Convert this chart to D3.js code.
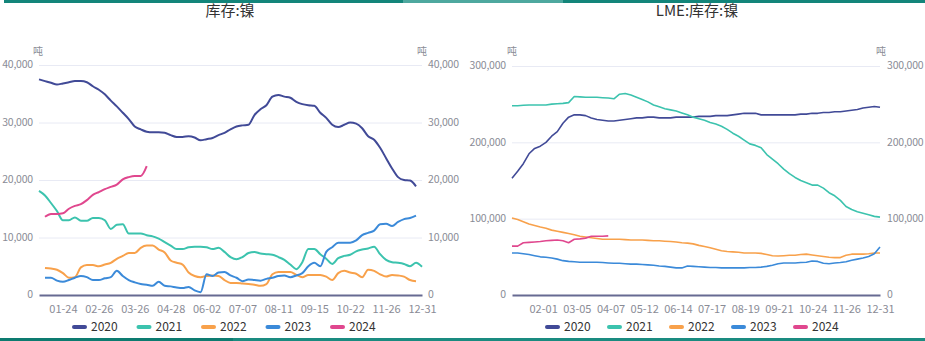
<!DOCTYPE html>
<html>
<head>
<meta charset="utf-8">
<script src="https://cdn.jsdelivr.net/npm/d3@7"></script>
<style>
  body { margin: 0; background: #fff; }
  svg text { font-family: "Noto Sans CJK SC", "Microsoft YaHei", sans-serif; }
</style>
</head>
<body>
<div id="main"></div>
<script>
// legend / series names
var years = ["2020", "2021", "2022", "2023", "2024"];

// SHFE nickel inventory (tonnes), one value per category slot
var shfeLabels = ["01-24", "02-26", "03-26", "04-28", "06-02", "07-07", "08-11", "09-15", "10-22", "11-26", "12-31"];
var shfe2020 = [37500, 37200, 36900, 36600, 36800, 37000, 37200, 37200, 37000, 36300, 35700, 34900, 33800, 32800, 31700, 30600,
  29300, 28800, 28400, 28300, 28300, 28200, 27800, 27500, 27500, 27600, 27400, 26900, 27100, 27300, 27800, 28200,
  28800, 29300, 29500, 29600, 31300, 32300, 33000, 34500, 34800, 34500, 34300, 33600, 33200, 33000, 32900, 31700,
  30800, 29600, 29200, 29600, 30000, 29800, 29000, 27600, 27000, 25600, 23800, 22000, 20500, 20000, 19900, 18900];
var shfe2021 = [18100, 17300, 16000, 14600, 13000, 13000, 13500, 12900, 12900, 13400, 13400, 13000, 11500, 12200, 12300, 10700,
  10700, 10700, 10400, 10200, 9800, 9200, 8600, 8000, 8000, 8300, 8400, 8400, 8300, 8000, 8200, 7500,
  6600, 6200, 6600, 7300, 7500, 7200, 7100, 7000, 6600, 6100, 5300, 4500, 5700, 8000, 8000, 7100,
  6300, 5400, 6400, 6800, 7000, 7600, 7900, 8100, 8400, 7100, 6100, 5700, 5600, 5400, 5000, 5600, 4900];
var shfe2022 = [null, 4700, 4600, 4400, 3800, 3000, 3100, 4800, 5200, 5200, 5000, 5300, 5600, 6300, 6800, 7300,
  7300, 8200, 8600, 8600, 7900, 7400, 6000, 5600, 5300, 3900, 3300, 3100, 3300, 3400, 3300, 2600,
  2100, 2100, 2000, 1900, 1800, 1600, 1900, 3600, 4000, 4000, 4000, 3500, 3100, 3500, 3500, 3500,
  3200, 2600, 3800, 4200, 3900, 3700, 3100, 4400, 4200, 3600, 3200, 3500, 3400, 3200, 2600, 2400];
var shfe2023 = [null, 3000, 3000, 2500, 2300, 2600, 3000, 3300, 3100, 2600, 2600, 2900, 3100, 4200, 3300, 2600,
  2200, 1900, 1800, 1600, 2300, 1600, 1500, 1300, 1200, 1400, 800, 500, 3600, 3300, 3900, 4000,
  3400, 3000, 2400, 2700, 2600, 2500, 2800, 3000, 3300, 3400, 3100, 3400, 3800, 5000, 5600, 5000,
  7500, 8300, 9100, 9100, 9100, 9500, 10400, 10800, 11200, 12300, 12400, 12000, 12700, 13200, 13400, 13800];
var shfe2024 = [null, 13600, 14100, 14100, 14200, 15000, 15500, 15800, 16500, 17400, 17900, 18400, 18800, 19200, 20100, 20500,
  20700, 20700, 22400];

// LME nickel inventory (tonnes)
var lmeLabels = ["02-01", "03-05", "04-07", "05-12", "06-14", "07-17", "08-19", "09-21", "10-24", "11-26", "12-31"];
var lme2020 = [153000, 162000, 172000, 185000, 192000, 195000, 200000, 208000, 214000, 225000, 233000, 236000, 236000, 235000, 232000, 230000,
  229000, 228000, 228000, 229000, 230000, 231000, 232000, 232000, 233000, 233000, 232000, 232000, 232000, 233000, 233000, 233000,
  233000, 234000, 234000, 234000, 235000, 235000, 235000, 236000, 237000, 238000, 238000, 238000, 236000, 236000, 236000, 236000,
  236000, 236000, 236000, 237000, 237000, 238000, 238000, 239000, 239000, 240000, 240000, 241000, 242000, 243000, 245000, 246000,
  247000, 246000];
var lme2021 = [248000, 248000, 248500, 249000, 249000, 249000, 249000, 250000, 250500, 251000, 252000, 260000, 259500, 259000, 259000, 259000,
  258500, 258000, 257000, 263000, 264000, 262000, 259000, 256000, 253000, 249000, 246500, 244000, 242500, 241000, 238500, 236000,
  233000, 231000, 229000, 226000, 224000, 221000, 217000, 212000, 208000, 203000, 198000, 196000, 193000, 184000, 178000, 172000,
  165000, 159000, 154000, 150000, 147000, 144000, 144000, 140000, 134000, 130000, 124000, 116000, 112000, 109000, 107000, 105000,
  103000, 102000];
var lme2022 = [101000, 99000, 96000, 93000, 91000, 89000, 87500, 85000, 83500, 82000, 80500, 79000, 77000, 76000, 75000, 74000,
  73000, 73000, 73000, 73000, 72500, 72000, 72000, 72000, 71500, 71000, 71000, 70500, 70000, 69500, 68500, 68000,
  67000, 65000, 63500, 62000, 60000, 58000, 57000, 56500, 56000, 55000, 55000, 55000, 54500, 53000, 51500, 51000,
  51500, 52000, 52000, 53000, 53500, 52500, 51500, 50500, 49500, 49000, 49000, 52000, 53500, 53500, 53500, 54000,
  55000, 55000];
var lme2023 = [55000, 55000, 54000, 53000, 51500, 50000, 49500, 48500, 47000, 45000, 44000, 43500, 43000, 43000, 43000, 43000,
  42500, 42000, 41500, 41500, 41000, 40500, 40500, 40000, 39500, 39000, 38000, 37500, 36500, 35500, 35500, 38000,
  37500, 37000, 36500, 36000, 36000, 35500, 35500, 35500, 35500, 35500, 36000, 36000, 36500, 37500, 39000, 41000,
  42000, 42000, 42000, 42500, 43000, 44500, 44000, 41500, 41000, 42000, 42500, 43500, 45500, 47000, 48500, 50500,
  54000, 63000];
var lme2024 = [64000, 64000, 68500, 69000, 69500, 70000, 71000, 71500, 72000, 71000, 68500, 73000, 73500, 74500, 77000, 77000,
  77000, 77500];

var lineColors = ["#414a97", "#3cc3ae", "#f8a14b", "#3b8ad9", "#e0478e"];

var svg = d3.select("#main").append("svg")
  .attr("width", 925)
  .attr("height", 341);

// frame bars top and bottom
svg.append("rect").attr("x", 4).attr("y", 0).attr("width", 921).attr("height", 3).attr("fill", "#13857a");
svg.append("rect").attr("x", 403).attr("y", 0).attr("width", 160).attr("height", 3).attr("fill", "#4ea89f");
svg.append("rect").attr("x", 0).attr("y", 338).attr("width", 925).attr("height", 3).attr("fill", "#1a8b80");
svg.append("rect").attr("x", 0).attr("y", 338).attr("width", 233).attr("height", 3).attr("fill", "#0d7b70");

function drawChart(o) {
  var g = svg.append("g");
  var x = d3.scaleLinear().domain([0, o.n - 1]).range([o.left, o.right]);
  var y = d3.scaleLinear().domain([0, o.yMax]).range([295, o.top]);

  // grid
  var grid = g.append("g")
    .attr("transform", "translate(" + o.left + ",0)")
    .call(d3.axisLeft(y).tickValues(o.yTicks.slice(1)).tickSize(-(o.right - o.left)).tickFormat(""));
  grid.select(".domain").remove();
  grid.selectAll("line").attr("stroke", "#e8eaf4");

  // y labels both sides
  var yl = g.append("g")
    .attr("transform", "translate(" + o.labelL + ",0)")
    .call(d3.axisLeft(y).tickValues(o.yTicks).tickSize(0).tickPadding(0).tickFormat(d3.format(",")));
  var yr = g.append("g")
    .attr("transform", "translate(" + o.labelR + ",0)")
    .call(d3.axisRight(y).tickValues(o.yTicks).tickSize(0).tickPadding(0).tickFormat(d3.format(",")));
  [yl, yr].forEach(function(a) {
    a.select(".domain").remove();
    a.selectAll("text").attr("fill", "#8a8c96").attr("dy", "0.28em")
      .style("font-size", "10.5px").style("letter-spacing", "-0.2px");
  });

  // x axis
  var tickIdx = o.xLabels.map(function(d, j) { return o.first + j * o.step; });
  var xa = g.append("g")
    .attr("transform", "translate(0,295)")
    .call(d3.axisBottom(x).tickValues(tickIdx)
      .tickFormat(function(d, j) { return o.xLabels[j]; })
      .tickSize(0).tickPadding(10));
  xa.select(".domain").attr("stroke", "#676a92").attr("stroke-width", 2);
  xa.selectAll("text").attr("fill", "#8a8c96").style("font-size", "11px");

  // lines
  var line = d3.line()
    .defined(function(d) { return d != null; })
    .x(function(d, i) { return x(i); })
    .y(function(d) { return y(d); })
    .curve(o.curve);
  o.series.forEach(function(s, k) {
    g.append("path")
      .datum(s)
      .attr("d", line)
      .attr("fill", "none")
      .attr("stroke", lineColors[k])
      .attr("stroke-width", o.lw)
      .attr("stroke-linejoin", "round");
  });

  // units
  [o.unitL, o.unitR].forEach(function(ux) {
    g.append("text").attr("x", ux).attr("y", 55).attr("text-anchor", "middle")
      .attr("fill", "#8a8c96").style("font-size", "10px").text("吨");
  });

  // title
  g.append("text").attr("x", o.titleX).attr("y", 16).attr("text-anchor", "middle")
    .attr("fill", "#333").style("font-size", "15px").text(o.title);

  // legend
  years.forEach(function(yr, k) {
    var lx = o.legendX + k * o.legendGap;
    g.append("rect").attr("x", lx).attr("y", 325).attr("width", 15).attr("height", 4).attr("rx", 2)
      .attr("fill", lineColors[k]);
    g.append("text").attr("x", lx + 19).attr("y", 327).attr("dy", "0.35em")
      .attr("fill", "#333").style("font-size", "12px").text(yr);
  });
}

drawChart({
  title: "库存:镍", titleX: 230,
  n: 65, left: 39, right: 422, top: 65, yMax: 40000,
  yTicks: [0, 10000, 20000, 30000, 40000],
  labelL: 33, labelR: 428, unitL: 38, unitR: 422,
  xLabels: shfeLabels, first: 4, step: 6,
  series: [shfe2020, shfe2021, shfe2022, shfe2023, shfe2024],
  curve: d3.curveMonotoneX, lw: 2,
  legendX: 72, legendGap: 64.5
});

drawChart({
  title: "LME:库存:镍", titleX: 697,
  n: 66, left: 512, right: 880, top: 66, yMax: 300000,
  yTicks: [0, 100000, 200000, 300000],
  labelL: 506, labelR: 887, unitL: 512, unitR: 881,
  xLabels: lmeLabels, first: 5.5, step: 5.95,
  series: [lme2020, lme2021, lme2022, lme2023, lme2024],
  curve: d3.curveLinear, lw: 1.6,
  legendX: 545, legendGap: 62
});
</script>
</body>
</html>
